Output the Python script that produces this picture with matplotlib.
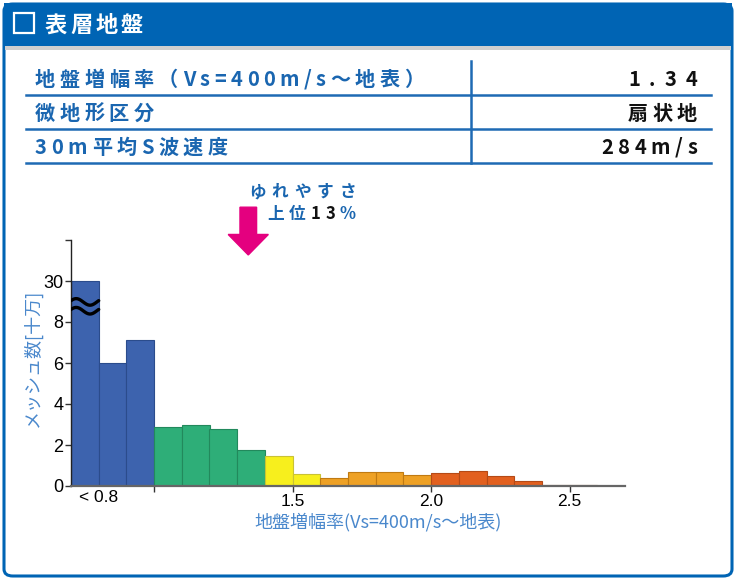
import numpy as np
import matplotlib
matplotlib.use('Agg')
import matplotlib.pyplot as plt
from matplotlib.patches import FancyBboxPatch, Rectangle, FancyArrow
from matplotlib.lines import Line2D

plt.rcParams['font.family'] = ['Noto Sans CJK JP', 'DejaVu Sans']

# ---- data ----
title = '表層地盤'
row_labels = ['地盤増幅率（Vs=400m/s～地表）', '微地形区分', '30m平均S波速度']
row_values = ['1.34', '扇状地', '284m/s']
amp_value = 1.34
rank_line1 = 'ゆれやすさ'
rank_pct = '13'

bin_left = [0.7, 0.8, 0.9, 1.0, 1.1, 1.2, 1.3, 1.4, 1.5, 1.6, 1.7, 1.8, 1.9,
            2.0, 2.1, 2.2, 2.3, 2.4, 2.5]
counts = [30, 6.0, 7.1, 2.88, 3.0, 2.8, 1.74, 1.47, 0.59, 0.37, 0.67, 0.67, 0.52,
          0.63, 0.71, 0.49, 0.24, 0.06, 0.05]
bin_group = [0, 0, 0, 1, 1, 1, 1, 2, 2, 3, 3, 3, 3, 4, 4, 4, 4, 4, 4]
group_face = ['#3d63ae', '#2eae78', '#f7ef1d', '#eea125', '#e2601f']
group_edge = ['#2b4c8c', '#22895c', '#c9c235', '#c07a12', '#b54a16']

ytick_pos = [0, 2, 4, 6, 8, 10, 12]
ytick_labels = ['0', '2', '4', '6', '8', '30', '']
xtick_pos = [1.0, 1.5, 2.0, 2.5]
xtick_labels = ['', '1.5', '2.0', '2.5']
first_label = '< 0.8'
xlabel = '地盤増幅率(Vs=400m/s～地表)'
ylabel = 'メッシュ数[十万]'

BLUE = '#0064b4'
TXT_BLUE = '#1a66b0'
LIGHT_BLUE = '#4a88cc'
PINK = '#e4007f'

W, H = 736, 579
fig = plt.figure(figsize=(W / 100, H / 100), dpi=100)
renderer = fig.canvas.get_renderer()


def fx(x):
    return x / W


def fy(y):
    return 1 - y / H


def spaced(x, y, s, size, spacing, colors, ha='left', weight='bold'):
    """Draw text char by char with extra letter spacing (pixel coords)."""
    if isinstance(colors, str):
        colors = [colors] * len(s)
    widths = []
    for ch in s:
        t = fig.text(0, 0, ch, fontsize=size, fontweight=weight)
        widths.append(t.get_window_extent(renderer).width)
        t.remove()
    total = sum(widths) + spacing * (len(s) - 1)
    cx = x if ha == 'left' else x - total
    for ch, w, c in zip(s, widths, colors):
        fig.text(fx(cx), fy(y), ch, fontsize=size, fontweight=weight,
                 color=c, ha='left', va='center', zorder=3)
        cx += w + spacing


# ---- frame ----
fig.patches.append(FancyBboxPatch((fx(4), fy(576)), fx(728), (572) / H,
                                  boxstyle='round,pad=0,rounding_size=0.012',
                                  transform=fig.transFigure, facecolor='white',
                                  edgecolor=BLUE, linewidth=2.2, zorder=0))
fig.patches.append(Rectangle((fx(4), fy(46)), fx(728), 43 / H,
                             transform=fig.transFigure, facecolor=BLUE,
                             edgecolor='none', zorder=1))
fig.patches.append(Rectangle((fx(5), fy(50)), fx(726), 4 / H,
                             transform=fig.transFigure, facecolor='#cfcfcf',
                             edgecolor='none', zorder=1))
fig.patches.append(Rectangle((fx(14), fy(33)), fx(20), 20 / H,
                             transform=fig.transFigure, facecolor='none',
                             edgecolor='white', linewidth=1.6, zorder=2))
spaced(45, 25, title, 16, 3, 'white')

# ---- table ----
for yl in [95, 129, 163]:
    fig.lines.append(Line2D([fx(26), fx(711)], [fy(yl), fy(yl)],
                            transform=fig.transFigure, color='#1e6ab4', lw=1.8))
fig.lines.append(Line2D([fx(471), fx(471)], [fy(61), fy(163)],
                        transform=fig.transFigure, color='#1e6ab4', lw=1.8))
for i, (lab, val) in enumerate(zip(row_labels, row_values)):
    yc = 79 + i * 34
    spaced(35, yc, lab, 14.5, 4.5, TXT_BLUE)
    spaced(697, yc, val, 14.5, 4.5 if i else 9, '#111111', ha='right')

# ---- histogram ----
ax = fig.add_axes([fx(71), (H - 486) / H, 554 / W, 246 / H])
ax.set_zorder(5)
ax.patch.set_alpha(0)
heights = [c if c <= 8 else 10 for c in counts]
for x0, h, g in zip(bin_left, heights, bin_group):
    ax.bar(x0, h, width=0.1, align='edge', color=group_face[g],
           edgecolor=group_edge[g], linewidth=0.8, zorder=2)

# break marks on the first bar
xs = np.linspace(bin_left[0], bin_left[0] + 0.1, 60)
for yb in [8.98, 8.55]:
    ax.plot(xs, yb + 0.16 * np.sin((xs - bin_left[0]) / 0.1 * 2 * np.pi + 0.4),
            color='black', lw=2.4, zorder=3, solid_capstyle='round')

ax.set_xlim(0.7, 2.7)
ax.set_ylim(0, 12)
for s in ['top', 'right']:
    ax.spines[s].set_visible(False)
ax.spines['left'].set_color('#222222')
ax.spines['left'].set_linewidth(1.0)
ax.spines['bottom'].set_color('#666666')
ax.spines['bottom'].set_linewidth(1.6)
ax.set_yticks(ytick_pos)
ax.set_yticklabels(ytick_labels, family='Liberation Sans', fontsize=13)
ax.set_xticks(xtick_pos)
ax.set_xticklabels(xtick_labels, family='Liberation Sans', fontsize=12.5)
ax.tick_params(axis='both', direction='out', length=4, width=1, color='#333333', pad=1.5)
ax.text(0.8, -0.2, first_label, family='Liberation Sans', fontsize=12.5,
        ha='center', va='top')
ax.set_xlabel(xlabel, fontsize=13, color=LIGHT_BLUE)
ax.xaxis.set_label_coords(0.554, -0.108)
ax.set_ylabel(ylabel, fontsize=13, color=LIGHT_BLUE)
ax.yaxis.set_label_coords(-0.052, 0.52)

# arrow pointing at this site's amplification value
ax.add_patch(FancyArrow(amp_value, 13.6, 0, -2.33, width=0.06, head_width=0.145,
                        head_length=1.0, length_includes_head=True,
                        color=PINK, clip_on=False, zorder=4))
spaced(356, 192, rank_line1, 12, 6, TXT_BLUE, ha='right')
spaced(356, 214, '上位' + rank_pct + '%', 12, 5,
       [TXT_BLUE, TXT_BLUE] + ['#111111'] * len(rank_pct) + [TXT_BLUE], ha='right')

fig.savefig('out.png', dpi=100)
